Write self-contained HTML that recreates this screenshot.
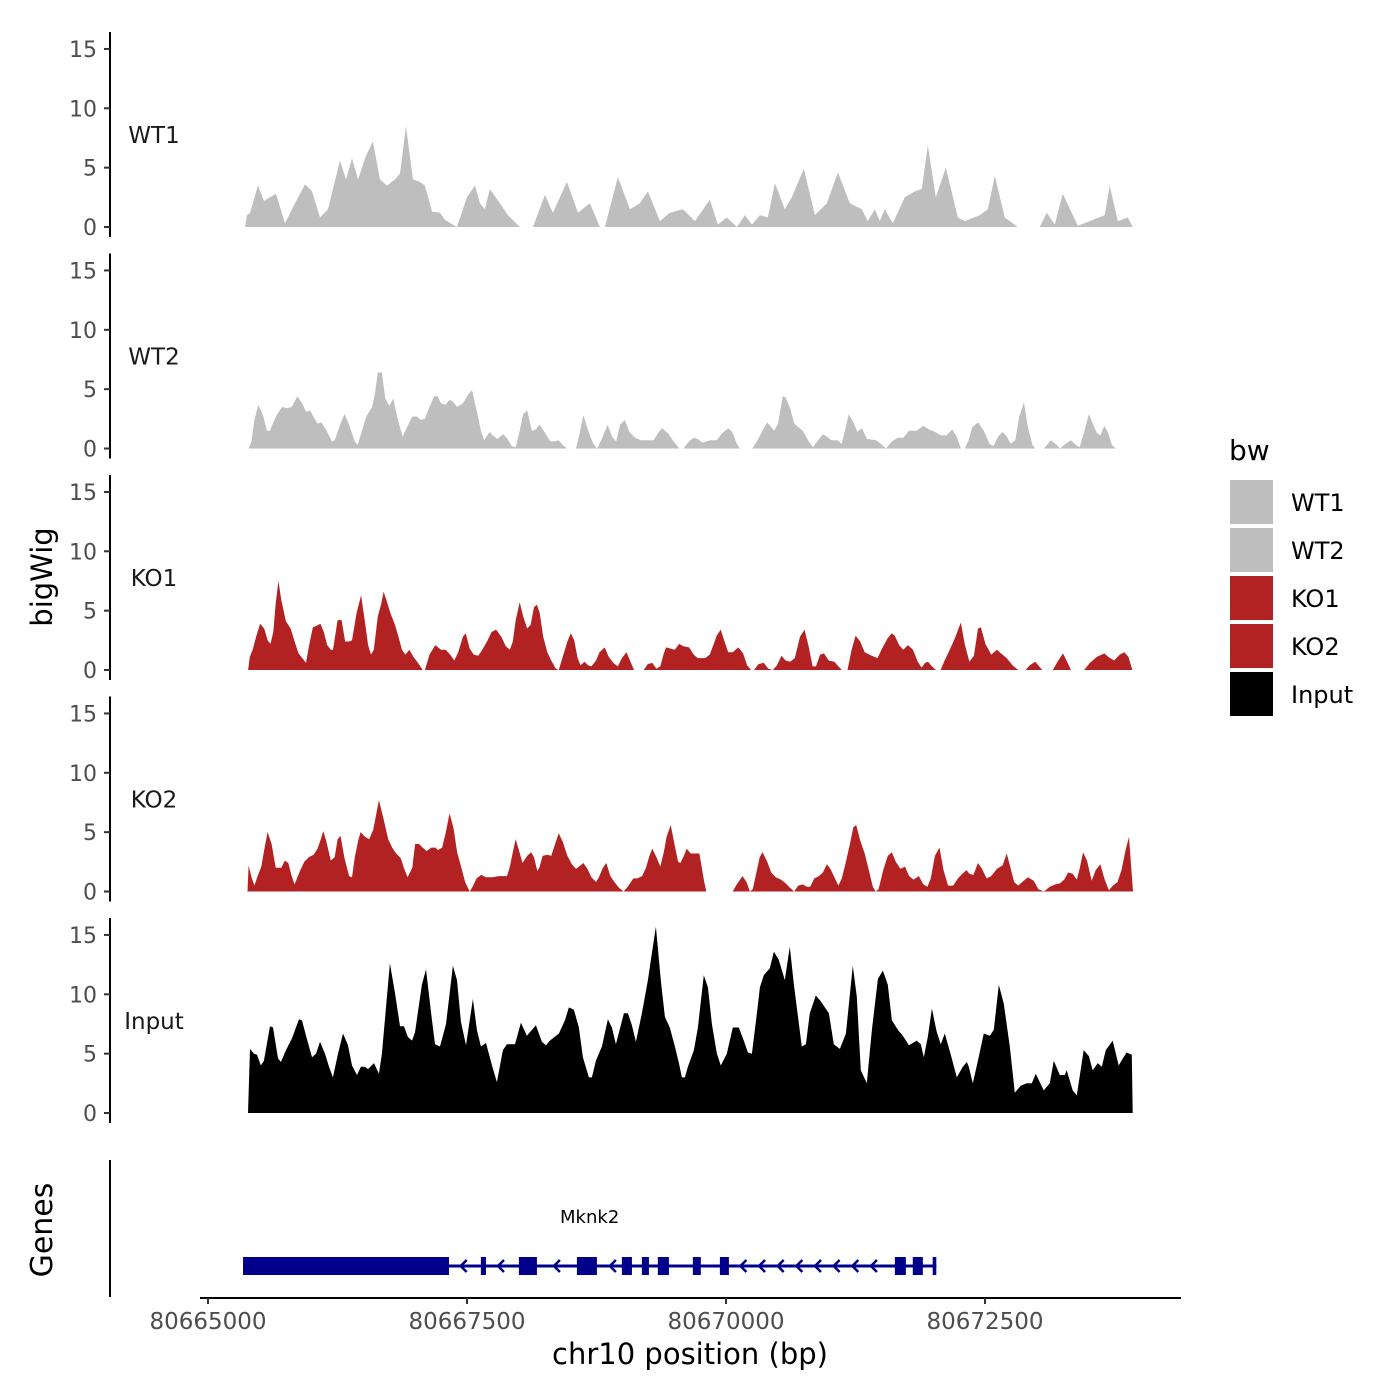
<!DOCTYPE html>
<html><head><meta charset="utf-8"><style>
html,body{margin:0;padding:0;background:#fff;}
svg{display:block;font-family:"DejaVu Sans","Liberation Sans",sans-serif;}
</style></head><body>
<svg id="chart" width="1400" height="1400" viewBox="0 0 1400 1400" xmlns="http://www.w3.org/2000/svg">
<rect width="1400" height="1400" fill="#fff"/>
<g id="panels"></g>
<g id="genes"></g>
<g id="xaxis"></g>
<text x="52" y="577" font-size="29" text-anchor="middle" transform="rotate(-90 52 577)">bigWig</text>
<text x="52" y="1230" font-size="30" text-anchor="middle" transform="rotate(-90 52 1230)">Genes</text>
<text x="690" y="1364" font-size="29" text-anchor="middle">chr10 position (bp)</text>
<g id="legend">
<text x="1229" y="460" font-size="28">bw</text>
</g>
</svg>
<script>
const regionStart = 80665000;
const trackNames = ["WT1","WT2","KO1","KO2","Input"];
const yTicks = [0,5,10,15];
const xTicks = [80665000,80667500,80670000,80672500];
const xTickLabels = ["80665000","80667500","80670000","80672500"];

const wt1Pos = [357,376,405,483,540,598,656,743,840,936,1004,1081,1158,1274,1332,1390,1448,1525,1592,1660,1727,1805,1853,1911,1978,2046,2094,2162,2239,2287,2403,2499,2577,2625,2673,2721,2818,2895,3011,3136,3252,3329,3464,3571,3686,3783,3831,3957,4072,4169,4246,4362,4458,4584,4700,4844,4922,5008,5105,5182,5250,5327,5404,5472,5568,5636,5751,5858,5973,6080,6195,6311,6369,6437,6485,6533,6610,6726,6823,6890,6948,7025,7122,7238,7305,7450,7527,7595,7691,7817,8029,8096,8174,8251,8396,8511,8656,8704,8782,8878,8926];
const wt1Val = [0,1,1.2,3.5,2.2,2.5,2.8,0.3,2,3.6,3,0.8,1.5,5.6,4,5.8,4,6,7.2,4,3.5,4,4.5,8.5,4,3.8,3.5,1.3,1.2,0.6,0,2.5,3.5,2,1.5,3.2,2,1,0,0,2.7,1.2,3.8,1.2,2,0,0,4.2,1.5,2,3,0.5,1.2,1.5,0.5,2.3,0.2,0.8,0,1,0.2,1,0.8,3.7,1.5,2.5,4.9,1,2,4.6,2,1.5,0.5,1.5,0.5,1.5,0.3,2.5,3,3.2,6.9,2.5,5,0.8,0.5,1,1.5,4.3,0.8,0,0,1.2,0.2,2.8,0.1,0.5,1,3.5,0.5,0.8,0];

const wt2Pos = [392,420,448,486,531,569,597,630,669,714,763,808,863,908,946,985,1057,1096,1151,1196,1223,1279,1318,1362,1417,1445,1473,1528,1584,1611,1639,1678,1711,1750,1789,1833,1878,1916,1972,2016,2055,2094,2138,2182,2216,2249,2293,2332,2371,2404,2460,2515,2548,2593,2637,2665,2720,2748,2792,2848,2892,2931,2970,3009,3042,3081,3125,3164,3202,3247,3302,3347,3385,3424,3468,3552,3580,3624,3674,3718,3757,3801,3857,3901,3940,3978,4023,4067,4123,4178,4300,4344,4383,4439,4494,4549,4588,4644,4688,4727,4771,4810,4854,4910,4965,5021,5060,5104,5132,5253,5298,5353,5398,5436,5464,5503,5547,5575,5619,5658,5697,5741,5797,5841,5880,5935,5974,6019,6074,6118,6185,6229,6268,6312,6362,6450,6506,6545,6600,6656,6711,6767,6839,6905,6961,7016,7072,7127,7183,7227,7266,7305,7338,7377,7432,7488,7543,7582,7626,7670,7709,7748,7792,7831,7875,7914,7958,7986,8069,8136,8191,8225,8264,8330,8375,8413,8458,8502,8541,8580,8613,8652,8690,8724,8763];
const wt2Val = [0,0.6,2.4,3.7,2.8,1.5,1.5,2.2,2.9,3.5,3.4,3.5,4.4,3.8,3.1,3.2,2.1,2.2,1.4,0.6,0.7,2.1,2.9,2.0,0.6,0.3,1.1,2.7,3.5,4.6,6.4,6.4,4.2,3.6,4.2,2.4,1.0,1.7,2.7,2.7,2.4,2.5,3.5,4.4,4.4,3.8,3.7,4.1,3.9,3.5,3.8,4.6,4.9,3.2,1.4,0.7,1.4,1.1,0.8,1.2,0.8,0.2,0.1,1.5,2.9,3.2,1.5,1.6,2.0,1.4,0.6,0.6,0.7,0.3,0,0,1.0,2.8,1.4,0.4,0,0.8,2.0,1.0,0.6,2.0,2.4,1.4,0.9,0.7,0.7,1.3,1.7,1.3,0.6,0,0,0.6,0.9,0.8,0.5,0.6,0.7,0.7,1.3,1.7,1.4,0.4,0,0,0.6,1.5,2.2,1.8,1.5,2.1,4.4,4.3,3.4,2.1,1.8,1.5,0.6,0.1,0.6,1.2,1.0,0.7,0.7,0.4,2.9,2.2,1.4,1.7,0.8,0.7,0.3,0,0.6,0.9,0.9,1.5,1.5,1.9,1.6,1.4,1.1,1.1,1.6,1.0,0,0,0.6,1.8,2.2,1.5,0.4,0.2,1.0,1.4,1.0,0.4,0.7,2.7,3.9,1.8,0.3,0,0,0.7,0.3,0,0.3,0.7,0.3,0.1,1.4,2.9,2.1,1.3,1.1,1.9,1.3,0.3,0];

const ko1Pos = [387,403,431,464,503,542,575,603,630,653,680,708,752,797,836,874,919,946,974,1013,1041,1085,1118,1151,1185,1207,1251,1290,1323,1362,1390,1434,1478,1517,1545,1573,1600,1639,1673,1695,1722,1761,1805,1839,1872,1905,1944,1983,2027,2072,2094,2138,2194,2249,2293,2338,2377,2415,2460,2487,2526,2565,2609,2648,2693,2737,2781,2831,2875,2914,2942,2970,3009,3042,3081,3114,3147,3175,3202,3236,3275,3313,3358,3386,3424,3469,3502,3535,3568,3596,3635,3668,3701,3746,3779,3829,3868,3912,3956,3995,4040,4078,4112,4206,4245,4289,4328,4366,4400,4422,4466,4505,4549,4588,4644,4688,4727,4799,4843,4882,4910,4949,4982,5021,5065,5120,5165,5204,5242,5270,5314,5364,5409,5453,5492,5536,5575,5619,5664,5714,5758,5797,5836,5869,5908,5946,5991,6046,6085,6118,6173,6212,6251,6295,6339,6406,6462,6506,6562,6600,6628,6672,6711,6756,6805,6850,6888,6922,6950,6988,7027,7071,7110,7154,7210,7266,7304,7349,7393,7432,7460,7504,7560,7615,7654,7709,7765,7820,7892,7931,7986,8053,8153,8208,8253,8292,8330,8458,8513,8580,8652,8690,8746,8801,8845,8884,8923];
const ko1Val = [0,1.1,1.7,2.8,3.9,3.5,2.5,2.2,3.2,5.6,7.5,5.9,4.1,3.5,2.4,1.4,0.9,0.6,2.0,3.6,3.7,3.9,3.2,2.1,1.7,1.7,4.2,4.2,2.4,2.4,2.5,4.8,6.3,3.9,2.1,1.3,1.7,4.5,5.6,6.6,5.9,4.8,3.8,2.8,1.7,1.3,1.7,1.1,0.6,0,0,1.3,2.1,1.7,1.7,1.3,0.8,1.5,2.8,3.1,1.8,1.3,1.2,1.7,2.4,3.2,3.4,2.8,2.0,1.7,2.4,4.2,5.7,4.5,3.5,3.8,5.3,5.5,4.8,2.8,1.5,0.8,0.1,0,1.1,2.4,3.1,2.5,1.0,0.4,0.7,0.4,0.3,0.8,1.5,1.9,1.1,0.6,0.3,1.0,1.5,0.7,0,0,0.5,0.6,0.1,0.3,1.4,1.9,1.8,1.7,2.2,2.0,1.9,1.3,1.0,1.0,1.3,2.2,2.9,3.4,2.5,1.5,1.5,1.9,1.4,0.4,0,0,0.5,0.6,0.1,0,0.4,1.2,0.8,0.7,1.0,2.8,3.4,2.0,0.3,0.3,1.3,1.4,0.8,0.7,0.3,0,0,1.7,2.9,2.4,1.5,1.2,1.0,1.8,2.7,3.1,2.9,2.1,1.7,2.1,1.7,0.7,0.2,0.6,0.7,0.3,0,0,0.8,1.6,2.7,4.0,2.2,0.7,1.2,3.5,3.6,2.2,1.3,1.7,1.4,1.0,0.4,0,0,0.4,0.7,0,0,0.8,1.4,0.7,0,0,0.6,1.1,1.4,1.1,0.8,1.3,1.5,1.1,0];

const ko2Pos = [381,392,420,448,475,514,542,575,614,653,708,741,775,808,836,863,891,930,974,1019,1057,1085,1113,1140,1185,1223,1251,1279,1318,1362,1390,1417,1450,1473,1517,1556,1595,1622,1650,1695,1739,1778,1817,1861,1894,1927,1972,1999,2038,2072,2110,2155,2194,2221,2260,2293,2332,2371,2404,2443,2482,2526,2554,2593,2637,2681,2748,2803,2848,2886,2914,2942,2970,2997,3036,3081,3119,3147,3180,3202,3230,3275,3313,3347,3385,3424,3469,3513,3552,3580,3624,3662,3701,3746,3773,3812,3845,3884,3923,3967,4012,4051,4106,4145,4189,4228,4261,4289,4328,4366,4400,4427,4466,4505,4538,4560,4594,4621,4660,4743,4788,4810,5065,5104,5159,5198,5231,5259,5298,5325,5353,5398,5436,5481,5531,5575,5619,5658,5697,5741,5780,5813,5852,5897,5935,5974,6008,6046,6085,6118,6157,6196,6229,6257,6295,6339,6378,6417,6445,6473,6517,6562,6600,6639,6684,6728,6767,6811,6861,6905,6944,6977,7016,7061,7099,7144,7193,7238,7282,7321,7349,7388,7432,7471,7515,7560,7615,7670,7709,7737,7781,7820,7859,7914,7970,8014,8069,8125,8180,8225,8264,8303,8347,8386,8413,8447,8485,8530,8569,8613,8652,8696,8735,8779,8818,8857,8890,8929];
const ko2Val = [0,2.2,1.2,0.5,1.2,2.1,3.5,5.0,4.0,2.0,2.0,2.6,2.4,1.3,0.6,1.2,1.8,2.5,2.9,3.1,3.6,4.3,5.1,4.3,2.6,2.9,4.4,4.7,2.8,1.3,1.2,2.9,4.3,5.0,4.6,4.4,5.2,6.4,7.7,6.1,4.4,3.7,3.2,2.8,1.9,1.2,2.0,4.0,4.0,3.7,3.4,3.7,3.7,3.5,3.7,4.9,6.6,5.3,3.3,2.1,0.8,0,0.4,1.1,1.4,1.2,1.2,1.3,1.3,1.3,2.1,3.3,4.4,3.6,2.4,3.0,3.3,2.9,1.7,2.1,3.0,3.1,3.0,3.9,4.9,4.2,3.0,2.3,1.9,2.1,2.4,1.9,1.2,0.8,1.2,2.0,2.4,1.3,0.8,0.3,0,0.4,1.1,1.1,1.3,2.0,3.0,3.6,2.9,2.1,3.3,4.6,5.6,3.9,2.5,2.4,3.0,3.6,3.2,3.2,0.9,0,0,0.6,1.3,0.8,0,0.2,1.8,2.9,3.3,2.5,1.6,1.2,1.0,0.7,0.3,0,0.5,0.6,0.4,0.4,1.1,1.3,1.6,2.3,1.9,1.2,0.5,1.1,2.5,4.0,5.4,5.6,4.3,3.2,1.8,0.4,0,0.2,1.8,3.0,3.3,2.5,1.9,2.1,1.3,1.0,1.3,0.6,0.4,1.1,3.0,3.7,1.8,0.5,0.5,1.1,1.5,1.8,1.5,1.4,2.4,1.9,1.1,1.3,1.9,2.2,3.2,2.3,0.8,0.5,0.8,1.2,0.9,0.2,0,0.4,0.6,0.7,1.0,1.6,1.5,1.0,1.9,3.3,2.6,0.9,1.8,2.3,1.1,0.1,0.5,0.8,1.8,3.5,4.6,0];

const inputPos = [386,405,444,473,511,540,598,627,676,704,753,811,878,907,946,1004,1042,1081,1129,1168,1206,1255,1303,1351,1390,1438,1476,1515,1544,1602,1650,1679,1756,1805,1853,1891,1930,1969,1998,2065,2104,2162,2191,2239,2297,2364,2403,2441,2490,2557,2596,2634,2683,2741,2789,2847,2885,2924,2963,3020,3078,3165,3223,3262,3300,3387,3445,3484,3532,3580,3619,3677,3706,3744,3802,3860,3899,3937,4014,4053,4092,4130,4188,4246,4275,4323,4371,4410,4458,4507,4545,4574,4603,4632,4690,4729,4786,4825,4864,4912,4950,5008,5066,5124,5172,5211,5250,5298,5327,5365,5423,5462,5510,5568,5616,5655,5732,5771,5809,5867,5915,5993,6041,6099,6157,6224,6263,6301,6359,6408,6466,6514,6562,6601,6659,6707,6765,6842,6880,6909,6948,6987,7035,7073,7112,7170,7228,7286,7324,7344,7382,7431,7488,7546,7585,7633,7681,7739,7788,7845,7903,7952,7990,8067,8125,8164,8222,8270,8289,8347,8386,8453,8502,8540,8589,8627,8666,8733,8791,8830,8868,8917,8926];
const inputVal = [0,5.4,5.0,4.9,4.0,4.4,7.3,7.2,4.6,4.3,5.3,6.3,7.9,7.8,6.5,4.7,5.0,6.0,5.0,3.9,3.0,5.0,6.7,5.7,4.0,3.2,3.9,3.9,3.7,4.2,3.3,5.0,12.6,10.1,7.3,7.3,6.4,6.1,6.8,10.8,12.1,7.8,5.8,5.6,7.5,12.4,11.2,7.7,5.7,9.6,7.0,5.6,5.9,4.0,2.6,5.3,5.8,5.8,5.8,7.6,6.5,7.4,6.0,5.7,6.1,6.7,7.8,8.9,8.7,7.2,4.7,3.0,3.0,4.4,5.6,7.9,7.2,5.8,8.4,8.4,7.4,6.0,8.4,11.2,12.9,15.7,11.2,8.1,7.2,5.6,4.2,3.0,3.0,3.9,5.3,7.2,11.6,10.6,7.5,5.0,4.0,5.0,7.2,7.2,6.1,5.1,5.0,8.4,10.6,11.6,12.2,13.6,12.9,11.2,14.0,10.8,5.6,5.8,8.4,9.9,9.4,8.4,5.8,5.4,6.7,12.4,9.8,3.6,2.5,7.0,11.3,12.0,10.8,7.8,7.0,6.5,5.7,6.1,5.8,4.7,6.4,8.8,6.8,5.8,6.7,4.9,3.0,3.9,4.3,3.9,2.5,4.4,6.7,6.5,7.0,10.8,9.2,5.6,1.7,2.3,2.5,2.5,3.3,1.9,2.5,4.4,3.2,3.2,3.6,1.9,1.5,5.3,4.8,3.6,4.2,3.9,5.3,6.1,4.0,4.6,5.1,4.9,0];

const exonStart = [338,2634,3001,3561,3995,4188,4342,4680,4941,6630,6803,6995];
const exonEnd = [2326,2683,3175,3754,4092,4256,4449,4757,5028,6736,6900,7030];
const geneName = "Mknk2";

const trackPos = [wt1Pos, wt2Pos, ko1Pos, ko2Pos, inputPos];
const trackVal = [wt1Val, wt2Val, ko1Val, ko2Val, inputVal];
const trackColors = ["#bebebe","#bebebe","#b22222","#b22222","#000000"];

const NS = "http://www.w3.org/2000/svg";
function mk(tag, attrs, parent){ const e=document.createElementNS(NS,tag); for(const k in attrs) e.setAttribute(k,attrs[k]); parent.appendChild(e); return e; }
function xScale(off){ return 208 + off*0.1036; }
function xScaleBp(bp){ return xScale(bp-regionStart); }
const pxPerUnit = 11.87;
function yBase(k){ return 227 + k*221.5; }
function yScale(k,v){ return yBase(k) - v*pxPerUnit; }

const panels = document.getElementById('panels');
trackNames.forEach((name,k)=>{
  const g = mk('g',{},panels);
  
  
  const ax = mk('line',{x1:110,x2:110,y1:yBase(k)-195,y2:yBase(k)+10,stroke:'#000','stroke-width':2},g);
  
  
  yTicks.forEach(t=>{
    const y = yScale(k,t);
    const tk = mk('line',{x1:104,x2:110,y1:y,y2:y,stroke:'#333','stroke-width':2},g);
    
    
    const tl = mk('text',{x:97,y:y+8,'font-size':22,'text-anchor':'end',fill:'#4d4d4d'},g);
    tl.textContent = String(t);
    
    
  });
  const lab = mk('text',{x:154,y:yBase(k)-84,'font-size':23,'text-anchor':'middle',fill:'#1a1a1a'},g);
  lab.textContent = name;
  
  
  const pos = trackPos[k], val = trackVal[k];
  const n = Math.min(pos.length, val.length);
  let d = 'M'+xScale(pos[0]).toFixed(1)+','+yBase(k);
  for(let i=0;i<n;i++) d += 'L'+xScale(pos[i]).toFixed(1)+','+yScale(k,val[i]).toFixed(1);
  d += 'L'+xScale(pos[n-1]).toFixed(1)+','+yBase(k)+'Z';
  const area = mk('path',{d:d,fill:trackColors[k]},g);
  
  
});

// gene track
const genes = document.getElementById('genes');
const gax = mk('line',{x1:110,x2:110,y1:1160,y2:1297,stroke:'#000','stroke-width':2},genes);


const gy = 1266;
const gStart = Math.min(...exonStart), gEnd = Math.max(...exonEnd);
const intron = mk('line',{x1:xScale(gStart),x2:xScale(gEnd),y1:gy,y2:gy,stroke:'#00008b','stroke-width':3},genes);


for(let off=gStart+150; off<gEnd; off+=180){
  let inside=false;
  for(let j=0;j<exonStart.length;j++){ if(off>exonStart[j]-80 && off<exonEnd[j]+60) inside=true; }
  if(inside) continue;
  const cx = xScale(off);
  const ch = mk('path',{d:'M'+(cx+3)+','+(gy-6)+'L'+(cx-3)+','+gy+'L'+(cx+3)+','+(gy+6),fill:'none',stroke:'#00008b','stroke-width':2.5},genes);
  
  
}
for(let j=0;j<exonStart.length;j++){
  const ex = mk('rect',{x:xScale(exonStart[j]),y:gy-9,width:xScale(exonEnd[j])-xScale(exonStart[j]),height:18,fill:'#00008b'},genes);
  
  
}
const gl = mk('text',{x:xScale((gStart+gEnd)/2),y:1223,'font-size':18,'text-anchor':'middle',fill:'#000'},genes);
gl.textContent = geneName;



// x axis
const xa = document.getElementById('xaxis');
const xl = mk('line',{x1:200,x2:1181,y1:1298,y2:1298,stroke:'#000','stroke-width':2},xa);


xTicks.forEach((t,i)=>{
  const x = xScaleBp(t);
  const tk = mk('line',{x1:x,x2:x,y1:1298,y2:1304,stroke:'#333','stroke-width':2},xa);
  
  
  const tl = mk('text',{x:x,y:1329,'font-size':23,'text-anchor':'middle',fill:'#4d4d4d'},xa);
  tl.textContent = xTickLabels[i];
  
  
});

// legend
const leg = document.getElementById('legend');
trackNames.forEach((name,k)=>{
  const y = 480 + k*48;
  const key = mk('rect',{x:1230,y:y,width:43,height:44,fill:trackColors[k]},leg);
  
  
  const t = mk('text',{x:1291,y:y+31,'font-size':24,fill:'#000'},leg);
  t.textContent = name;
  
  
});
</script>
</body></html>
